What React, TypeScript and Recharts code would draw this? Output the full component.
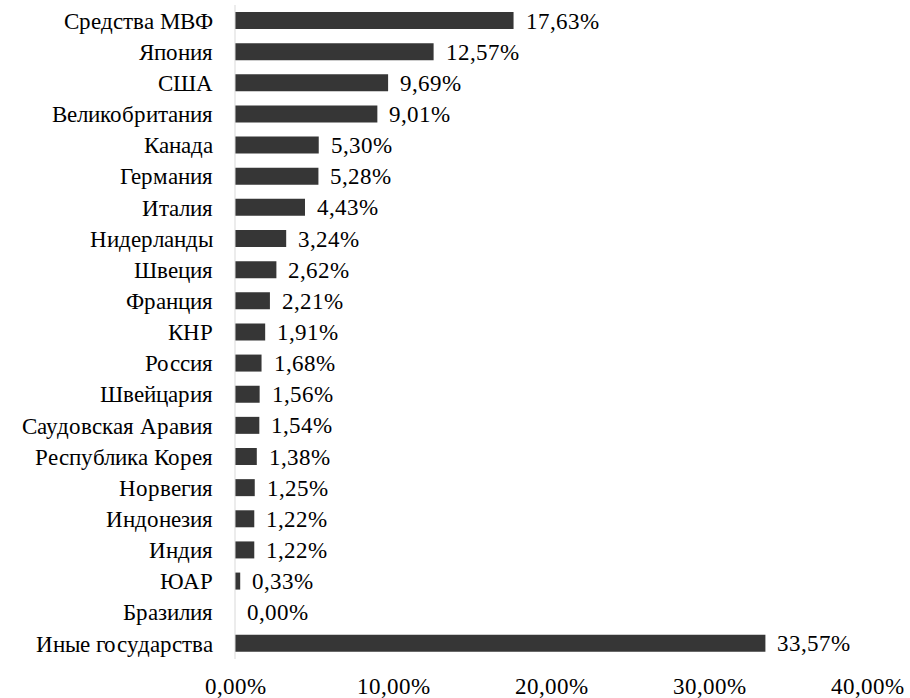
import { BarChart, Bar, XAxis, YAxis, LabelList } from 'recharts';

const countries = [
  'Средства МВФ', 'Япония', 'США', 'Великобритания', 'Канада', 'Германия',
  'Италия', 'Нидерланды', 'Швеция', 'Франция', 'КНР', 'Россия', 'Швейцария',
  'Саудовская Аравия', 'Республика Корея', 'Норвегия', 'Индонезия', 'Индия',
  'ЮАР', 'Бразилия', 'Иные государства',
];

const shares = [
  17.63, 12.57, 9.69, 9.01, 5.30, 5.28, 4.43, 3.24, 2.62, 2.21, 1.91, 1.68,
  1.56, 1.54, 1.38, 1.25, 1.22, 1.22, 0.33, 0.0, 33.57,
];

const xTicks = [0, 10, 20, 30, 40];

const pct = (v: number) => `${Number(v).toFixed(2).replace('.', ',')}%`;

const FONT = 'ChartSerif, Liberation Serif, serif';
const FS = 23;

const fontCss = `
@font-face {
  font-family: 'ChartSerif';
  src: local('Liberation Serif'), local('LiberationSerif'), local('LiberationSerif-Regular'), local('Times New Roman');
}
.recharts-wrapper text { font-family: ChartSerif, 'Liberation Serif', serif; }
`;

// label drawn by hand so the zero-width bar still gets its "0,00%"
const ValueLabel = (props: any) => {
  const { x, y, width, height, value } = props;
  return (
    <text
      x={Number(x) + Number(width || 0) + 12}
      y={Number(y) + Number(height) / 2}
      dy="0.35em"
      fill="#000"
      fontSize={FS}
      fontFamily={FONT}
    >
      {pct(Number(value))}
    </text>
  );
};

export default function App() {
  const data = countries.map((name, i) => ({ name, value: shares[i] }));

  return (
    <div style={{ position: 'absolute', left: 0, top: 0, width: 910, height: 698, background: '#fff', fontFamily: FONT }}>
      <style>{fontCss}</style>
      <BarChart
        width={910}
        height={698}
        data={data}
        layout="vertical"
        margin={{ top: 5, right: 43, bottom: 9, left: 0 }}
        barSize={17}
      >
        <XAxis
          type="number"
          domain={[0, 40]}
          ticks={xTicks}
          tickFormatter={pct}
          axisLine={false}
          tickLine={false}
          tickMargin={13}
          height={30}
          tick={{ fill: '#000', fontSize: FS, fontFamily: FONT }}
        />
        <YAxis
          type="category"
          dataKey="name"
          width={235}
          interval={0}
          axisLine={{ stroke: '#d9d9d9' }}
          tickLine={false}
          tickMargin={16}
          tick={{ fill: '#000', fontSize: FS, fontFamily: FONT }}
        />
        <Bar dataKey="value" fill="#363636" minPointSize={0.01} isAnimationActive={false}>
          <LabelList dataKey="value" content={ValueLabel} />
        </Bar>
      </BarChart>
    </div>
  );
}
